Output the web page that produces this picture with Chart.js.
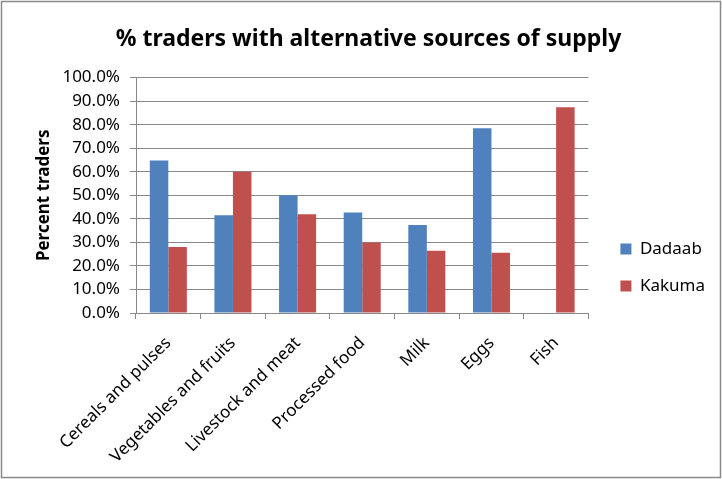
<!DOCTYPE html>
<html>
<head>
<meta charset="utf-8">
<script src="https://cdn.jsdelivr.net/npm/chart.js@4.4.1/dist/chart.umd.min.js"></script>
<style>
  body { margin: 0; background: #fff; }
  #wrap { width: 722px; height: 479px; position: relative; }
</style>
</head>
<body>
<div id="wrap"><canvas id="myChart" width="722" height="479"></canvas></div>
<script>
const categories = ['Cereals and pulses', 'Vegetables and fruits', 'Livestock and meat', 'Processed food', 'Milk', 'Eggs', 'Fish'];
const dadaab = [64.8, 41.5, 50.0, 42.7, 37.4, 78.5, 0];
const kakuma = [28.0, 60.0, 42.0, 30.0, 26.4, 25.6, 87.4];
const seriesNames = ['Dadaab', 'Kakuma'];

const fontFamily = '"Noto Sans", "Open Sans", sans-serif';
const gridColor = '#888888';

const framePlugin = {
  id: 'frame',
  beforeDraw(chart) {
    const ctx = chart.ctx;
    ctx.save();
    ctx.fillStyle = '#ffffff';
    ctx.fillRect(0, 0, chart.width, chart.height);
    ctx.strokeStyle = '#8a8a8a';
    ctx.lineWidth = 1.5;
    ctx.strokeRect(1.5, 1.5, chart.width - 3, chart.height - 3);
    ctx.restore();
  }
};

// nudge the legend box to where Excel puts it (right and a bit lower)
const legendNudge = {
  id: 'legendNudge',
  afterLayout(chart) {
    const lg = chart.legend;
    if (!lg) return;
    lg.left += 12;
    lg.right += 12;
    lg.top += 23;
    lg.bottom += 23;
  }
};

function initChart(target) {
  const data = {
    labels: categories,
    datasets: [{
      label: seriesNames[0],
      backgroundColor: '#4F81BD',
      data: dadaab
    }, {
      label: seriesNames[1],
      backgroundColor: '#C0504D',
      data: kakuma
    }]
  };

  const config = {
    type: 'bar',
    data: data,
    plugins: [framePlugin, legendNudge],
    options: {
      responsive: false,
      animation: false,
      categoryPercentage: 0.573,
      barPercentage: 1.0,
      layout: { padding: { left: 34, right: 19, top: 10, bottom: 0 } },
      plugins: {
        title: {
          display: true,
          text: '% traders with alternative sources of supply',
          color: '#000',
          font: { family: fontFamily, size: 23, weight: 'bold' },
          padding: { top: 16, bottom: 24 }
        },
        legend: {
          position: 'right',
          labels: {
            color: '#000',
            font: { family: fontFamily, size: 17 },
            boxWidth: 11,
            boxHeight: 11,
            padding: 20
          }
        },
        tooltip: { enabled: false }
      },
      scales: {
        x: {
          grid: {
            offset: true,
            drawOnChartArea: false,
            drawTicks: true,
            tickLength: 6,
            color: gridColor
          },
          border: { color: gridColor },
          ticks: {
            color: '#000',
            font: { family: fontFamily, size: 17 },
            minRotation: 45,
            maxRotation: 45,
            padding: 14
          },
          afterFit(scale) { scale.height = 479 - 313; }
        },
        y: {
          min: 0,
          max: 100,
          grid: {
            color: gridColor,
            tickLength: 6
          },
          border: { color: gridColor },
          ticks: {
            stepSize: 10,
            color: '#000',
            font: { family: fontFamily, size: 17 },
            padding: 10,
            callback: (v) => v.toFixed(1) + '%'
          },
          title: {
            display: true,
            text: 'Percent traders',
            color: '#000',
            font: { family: fontFamily, size: 17, weight: 'bold' },
            padding: { top: 0, bottom: 6 }
          },
          afterFit(scale) { scale.width = 136 - 34; }
        }
      }
    }
  };

  return new Chart(target, config);
}

document.addEventListener('DOMContentLoaded', () => {
  initChart(document.querySelector('#myChart'));
});
</script>
</body>
</html>
